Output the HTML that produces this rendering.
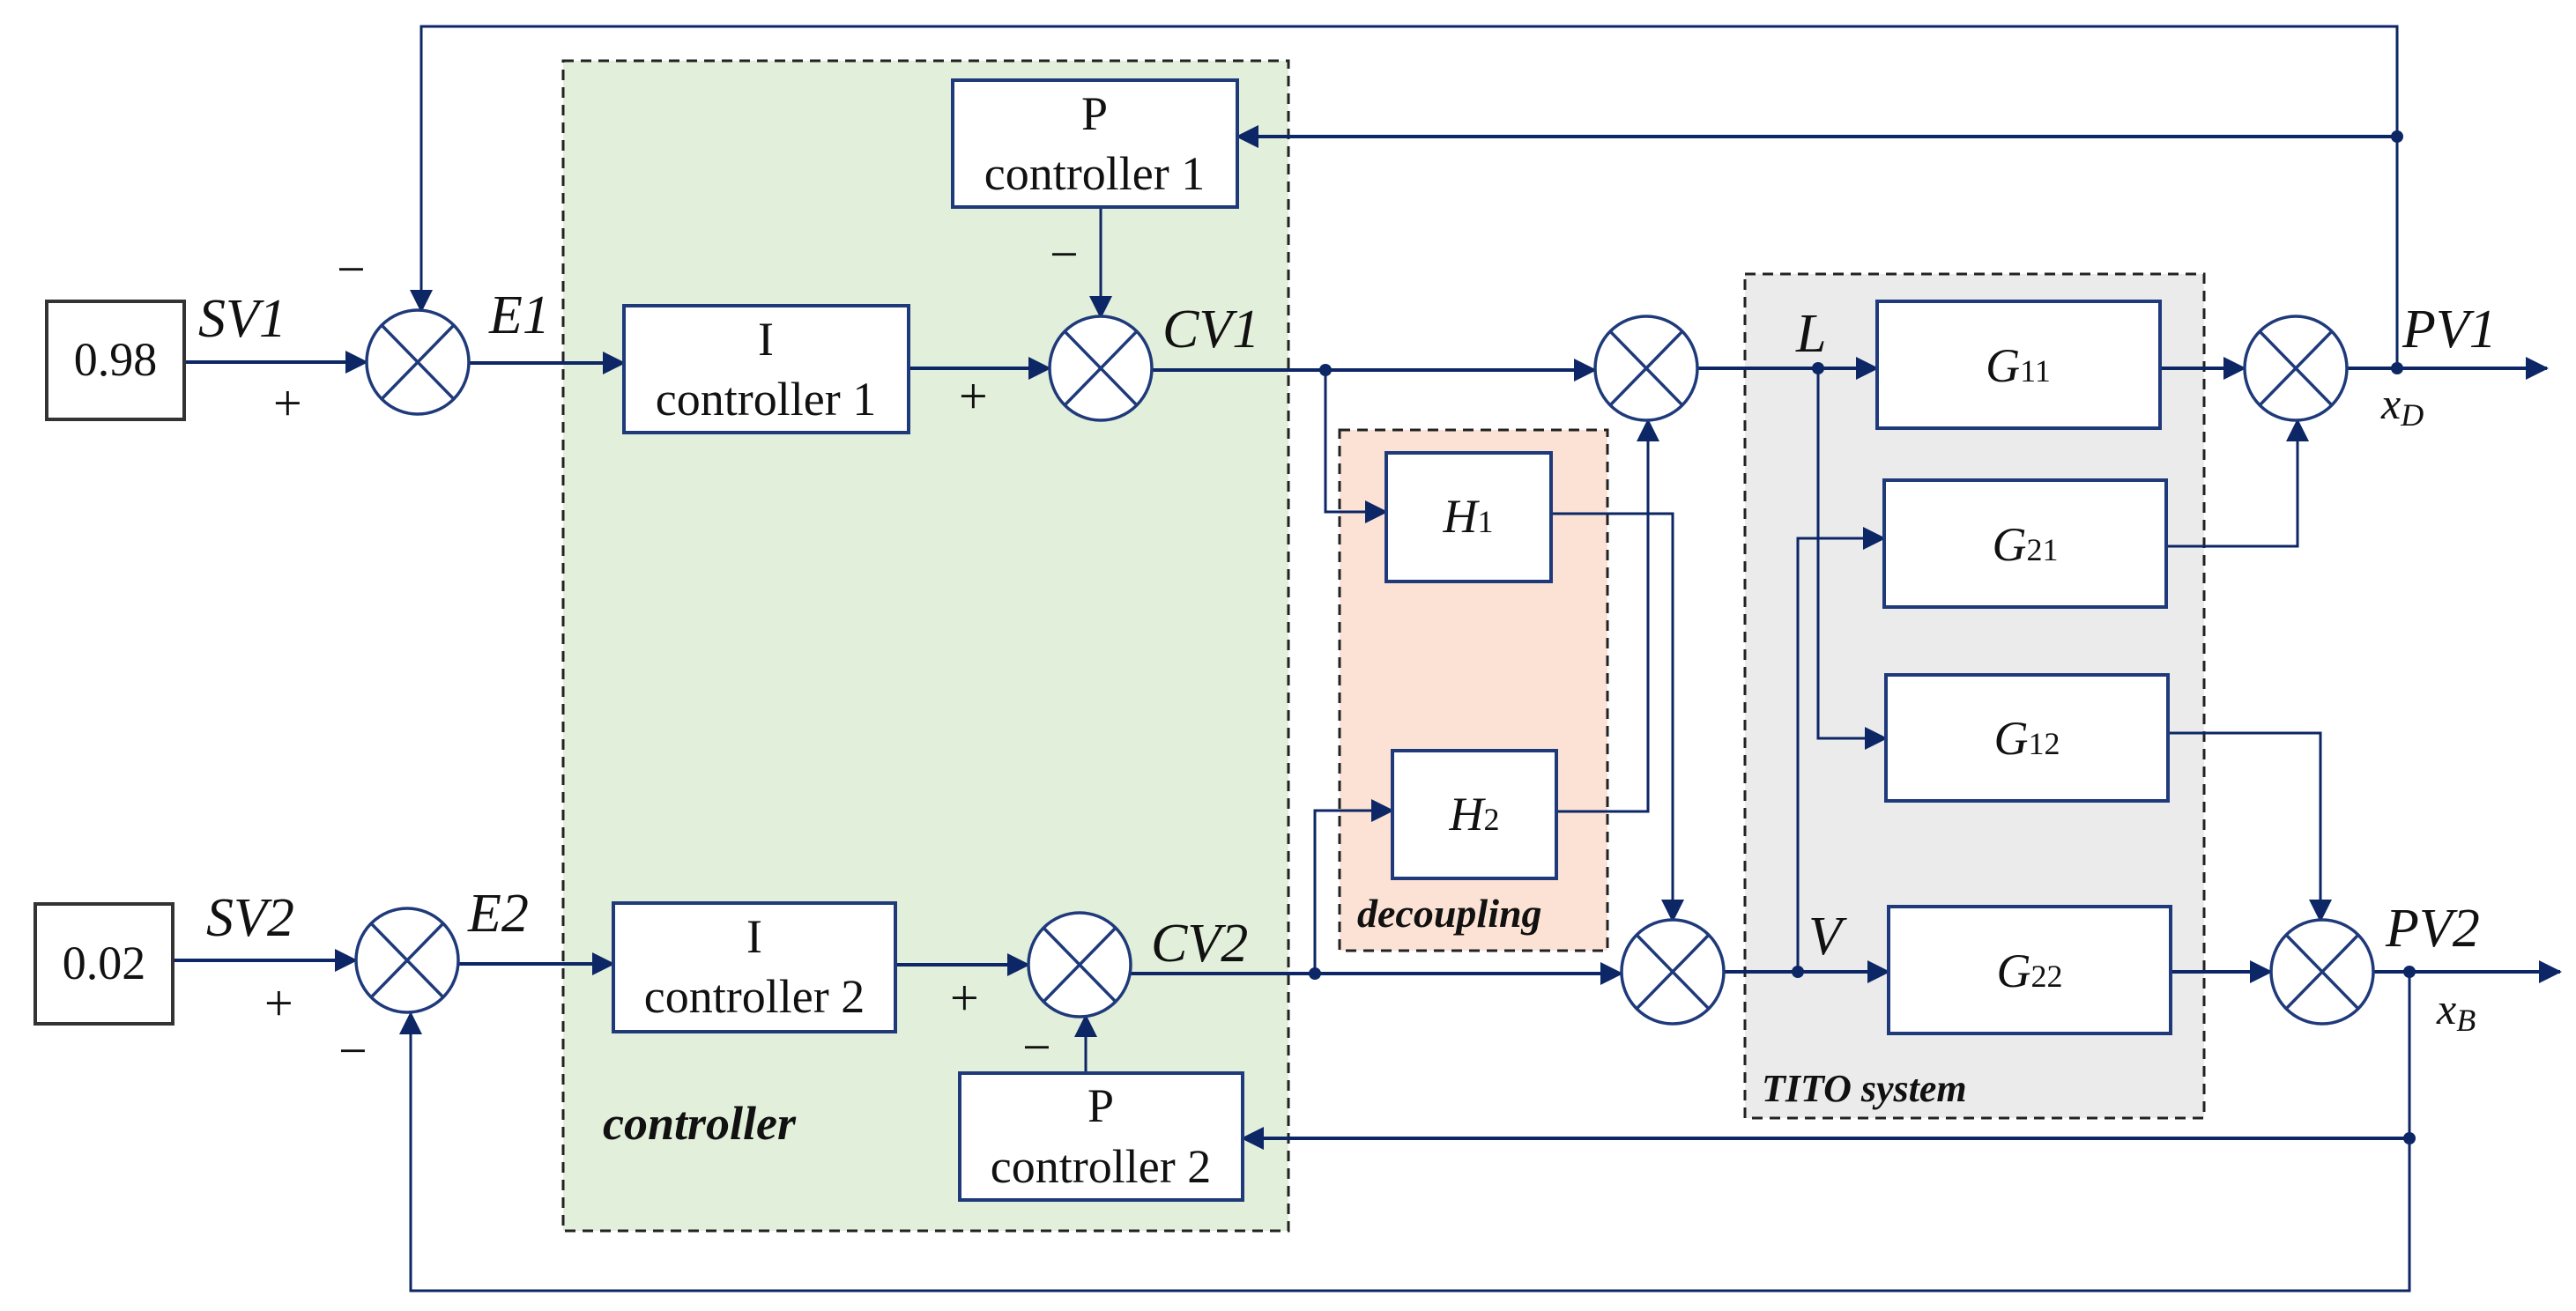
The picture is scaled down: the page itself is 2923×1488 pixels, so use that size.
<!DOCTYPE html>
<html><head><meta charset="utf-8"><style>
html,body{margin:0;padding:0;background:#fff}
svg{display:block}
text{font-family:"Liberation Serif",serif;fill:#111}
.it{font-style:italic}
.sign{fill:#1f3a7a;font-family:"Liberation Sans",sans-serif}
</style></head><body>
<svg width="2923" height="1488" viewBox="0 0 2923 1488" xmlns="http://www.w3.org/2000/svg">
<defs>
<marker id="a" markerUnits="userSpaceOnUse" markerWidth="26" markerHeight="26" refX="24" refY="13" orient="auto">
<path d="M0,0 L26,13 L0,26 Z" fill="#0d2665"/></marker>
</defs>
<rect x="639" y="69" width="823" height="1328" fill="#e2efda" stroke="#222" stroke-width="3" stroke-dasharray="12,8"/>
<rect x="1520" y="488" width="304" height="591" fill="#fbe2d5" stroke="#222" stroke-width="3" stroke-dasharray="12,8"/>
<rect x="1980" y="311" width="521" height="958" fill="#ebebeb" stroke="#222" stroke-width="3" stroke-dasharray="12,8"/>

<g fill="none" stroke="#0d2665" stroke-width="4">
<line x1="209" y1="411" x2="416" y2="411" marker-end="url(#a)"/>
<line x1="532" y1="412" x2="708" y2="412" marker-end="url(#a)"/>
<line x1="1031" y1="418" x2="1191" y2="418" marker-end="url(#a)"/>
<line x1="1249" y1="235" x2="1249" y2="360" marker-end="url(#a)" stroke-width="3"/>
<line x1="1307" y1="420" x2="1810" y2="420" marker-end="url(#a)"/>
<polyline points="1504,420 1504,581 1573,581" marker-end="url(#a)" stroke-width="3"/>
<line x1="1926" y1="418" x2="2130" y2="418" marker-end="url(#a)"/>
<line x1="2451" y1="418" x2="2547" y2="418" marker-end="url(#a)"/>
<line x1="2663" y1="418" x2="2890" y2="418" marker-end="url(#a)"/>
<polyline points="2720,418 2720,30 478,30 478,353" marker-end="url(#a)" stroke-width="3"/>
<line x1="2720" y1="155" x2="1404" y2="155" marker-end="url(#a)"/>
<polyline points="2063,418 2063,838 2140,838" marker-end="url(#a)" stroke-width="3"/>
<polyline points="2040,1103 2040,611 2138,611" marker-end="url(#a)" stroke-width="3"/>
<polyline points="2458,620 2607,620 2607,477" marker-end="url(#a)" stroke-width="3"/>
<polyline points="2460,832 2633,832 2633,1045" marker-end="url(#a)" stroke-width="3"/>
<polyline points="1760,583 1898,583 1898,1045" marker-end="url(#a)" stroke-width="3"/>
<polyline points="1766,921 1870,921 1870,477" marker-end="url(#a)" stroke-width="3"/>
<line x1="196" y1="1090" x2="404" y2="1090" marker-end="url(#a)"/>
<line x1="520" y1="1094" x2="696" y2="1094" marker-end="url(#a)"/>
<line x1="1016" y1="1095" x2="1167" y2="1095" marker-end="url(#a)"/>
<line x1="1232" y1="1218" x2="1232" y2="1153" marker-end="url(#a)" stroke-width="3"/>
<line x1="1283" y1="1105" x2="1840" y2="1105" marker-end="url(#a)"/>
<polyline points="1492,1105 1492,920 1580,920" marker-end="url(#a)" stroke-width="3"/>
<line x1="1956" y1="1103" x2="2143" y2="1103" marker-end="url(#a)"/>
<line x1="2463" y1="1103" x2="2577" y2="1103" marker-end="url(#a)"/>
<line x1="2693" y1="1103" x2="2905" y2="1103" marker-end="url(#a)"/>
<polyline points="2734,1103 2734,1465 466,1465 466,1150" marker-end="url(#a)" stroke-width="3"/>
<line x1="2734" y1="1292" x2="1410" y2="1292" marker-end="url(#a)"/>
</g>
<g fill="#0d2665">
<circle cx="1504" cy="420" r="7"/><circle cx="2063" cy="418" r="7"/><circle cx="2720" cy="418" r="7"/><circle cx="2720" cy="155" r="7"/>
<circle cx="1492" cy="1105" r="7"/><circle cx="2040" cy="1103" r="7"/><circle cx="2734" cy="1103" r="7"/><circle cx="2734" cy="1292" r="7"/>
</g>
<g fill="#fff" stroke="#1f3a7a" stroke-width="3.5">
<g transform="translate(474,411)"><ellipse rx="58" ry="59"/><path d="M-41,-42 L41,42 M41,-42 L-41,42"/></g>
<g transform="translate(1249,418)"><ellipse rx="58" ry="59"/><path d="M-41,-42 L41,42 M41,-42 L-41,42"/></g>
<g transform="translate(1868,418)"><ellipse rx="58" ry="59"/><path d="M-41,-42 L41,42 M41,-42 L-41,42"/></g>
<g transform="translate(2605,418)"><ellipse rx="58" ry="59"/><path d="M-41,-42 L41,42 M41,-42 L-41,42"/></g>
<g transform="translate(462,1090)"><ellipse rx="58" ry="59"/><path d="M-41,-42 L41,42 M41,-42 L-41,42"/></g>
<g transform="translate(1225,1095)"><ellipse rx="58" ry="59"/><path d="M-41,-42 L41,42 M41,-42 L-41,42"/></g>
<g transform="translate(1898,1103)"><ellipse rx="58" ry="59"/><path d="M-41,-42 L41,42 M41,-42 L-41,42"/></g>
<g transform="translate(2635,1103)"><ellipse rx="58" ry="59"/><path d="M-41,-42 L41,42 M41,-42 L-41,42"/></g>
</g>
<g fill="#fff" stroke="#1f3a7a" stroke-width="4">
<rect x="708" y="347" width="323" height="144"/>
<rect x="1081" y="91" width="323" height="144"/>
<rect x="696" y="1025" width="320" height="146"/>
<rect x="1089" y="1218" width="321" height="144"/>
<rect x="1573" y="514" width="187" height="146"/>
<rect x="1580" y="852" width="186" height="145"/>
<rect x="2130" y="342" width="321" height="144"/>
<rect x="2138" y="545" width="320" height="144"/>
<rect x="2140" y="766" width="320" height="143"/>
<rect x="2143" y="1029" width="320" height="144"/>
</g>
<g fill="#fff" stroke="#333" stroke-width="4">
<rect x="53" y="342" width="156" height="134"/>
<rect x="40" y="1026" width="156" height="136"/>
</g>
<g font-size="54" text-anchor="middle">
<text x="131" y="426">0.98</text>
<text x="118" y="1111">0.02</text>
<text x="869" y="403">I</text><text x="869" y="471">controller 1</text>
<text x="1242" y="147">P</text><text x="1242" y="215">controller 1</text>
<text x="856" y="1081">I</text><text x="856" y="1149">controller 2</text>
<text x="1249" y="1273">P</text><text x="1249" y="1342">controller 2</text>
</g>
<g font-size="62" class="it">
<text x="225" y="382">SV1</text>
<text x="555" y="378">E1</text>
<text x="1319" y="394">CV1</text>
<text x="234" y="1062">SV2</text>
<text x="531" y="1057">E2</text>
<text x="1306" y="1091">CV2</text>
<text x="2726" y="394">PV1</text>
<text x="2707" y="1074">PV2</text>
<text x="2038" y="399">L</text>
<text x="2052" y="1083">V</text>
</g>
<g font-size="50" class="it">
<text x="2702" y="475">x<tspan font-size="36" dy="8">D</tspan></text>
<text x="2765" y="1162">x<tspan font-size="36" dy="8">B</tspan></text>
</g>
<g font-size="54" text-anchor="middle">
<text x="1666" y="604"><tspan class="it">H</tspan><tspan font-size="36">1</tspan></text>
<text x="1673" y="942"><tspan class="it">H</tspan><tspan font-size="36">2</tspan></text>
<text x="2290" y="433"><tspan class="it">G</tspan><tspan font-size="36">11</tspan></text>
<text x="2298" y="636"><tspan class="it">G</tspan><tspan font-size="36">21</tspan></text>
<text x="2300" y="856"><tspan class="it">G</tspan><tspan font-size="36">12</tspan></text>
<text x="2303" y="1120"><tspan class="it">G</tspan><tspan font-size="36">22</tspan></text>
</g>
<g font-weight="bold" class="it">
<text x="684" y="1293" font-size="54">controller</text>
<text x="1540" y="1052" font-size="46">decoupling</text>
<text x="1999" y="1250" font-size="44">TITO system</text>
</g>
<g class="sign" font-size="58">
<text x="382" y="325">−</text>
<text x="310" y="477">+</text>
<text x="1191" y="308">−</text>
<text x="1088" y="469">+</text>
<text x="300" y="1158">+</text>
<text x="384" y="1212">−</text>
<text x="1078" y="1152">+</text>
<text x="1160" y="1208">−</text>
</g>
</svg>
</body></html>
